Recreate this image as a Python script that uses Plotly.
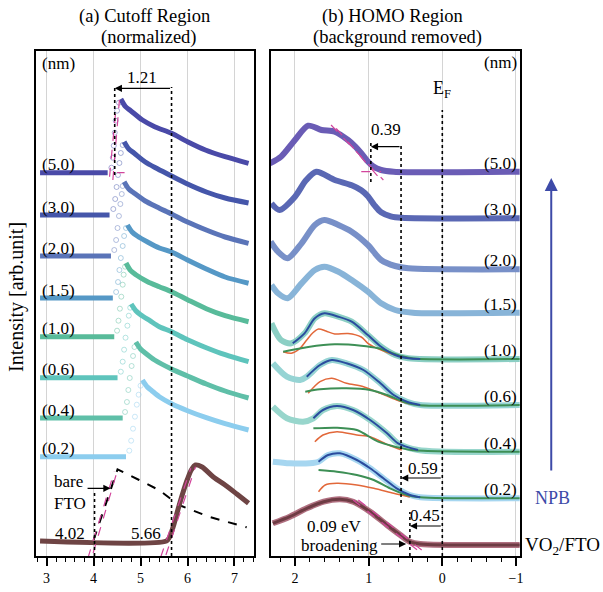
import plotly.graph_objects as go

FONT = "Liberation Serif"
THICK = ["5.0", "3.0", "2.0", "1.5", "1.0", "0.6", "0.4", "0.2"]

# ---------------- (a) Cutoff region (normalized) ----------------
A_COLORS = ["#4a4aa8", "#4556aa", "#5a74b8", "#5598c6", "#58bb9a", "#5ec4bc", "#5fbfa8", "#8ccdee"]
A_BASE = [383.3, 341.0, 300.0, 258.0, 219.3, 178.3, 138.0, 99.3]
A_START = 2.86
A_ONSET = [4.30, 4.34, 4.37, 4.41, 4.44, 4.51, 4.62, 4.69]
A_RISE_X = [
    [4.38, 4.41, 4.43, 4.45, 4.47, 4.50, 4.54],
    [4.42, 4.46, 4.49, 4.52, 4.55, 4.58, 4.62],
    [4.44, 4.48, 4.51, 4.54, 4.57, 4.60, 4.62],
    [4.48, 4.52, 4.55, 4.58, 4.62, 4.65, 4.69],
    [4.50, 4.53, 4.56, 4.59, 4.62, 4.64, 4.67],
    [4.58, 4.62, 4.65, 4.68, 4.72, 4.75, 4.78],
    [4.67, 4.71, 4.74, 4.77, 4.81, 4.84, 4.87],
    [4.76, 4.80, 4.84, 4.88, 4.92, 4.96, 5.00],
]
A_RISE_Y = [
    [5, 15, 27, 40, 52, 62, 70],
    [6, 16, 28, 40, 52, 62, 70],
    [6, 16, 28, 40, 52, 62, 70],
    [6, 16, 28, 40, 52, 62, 70],
    [6, 16, 28, 40, 52, 62, 70],
    [6, 16, 28, 40, 52, 62, 70],
    [6, 16, 28, 40, 52, 62, 71],
    [6, 16, 28, 40, 52, 62, 71],
]
A_DECAY_X = [
    [4.58, 4.68, 4.79, 5.04, 5.30, 5.66, 6.00, 6.38, 6.80, 7.30],
    [4.65, 4.75, 4.86, 5.10, 5.35, 5.66, 6.00, 6.40, 6.80, 7.30],
    [4.65, 4.75, 4.86, 5.10, 5.35, 5.66, 6.00, 6.40, 6.80, 7.30],
    [4.72, 4.82, 4.93, 5.15, 5.40, 5.66, 6.00, 6.40, 6.80, 7.30],
    [4.69, 4.79, 4.90, 5.15, 5.40, 5.66, 6.00, 6.40, 6.80, 7.30],
    [4.80, 4.90, 5.00, 5.20, 5.40, 5.66, 6.00, 6.40, 6.80, 7.30],
    [4.90, 5.00, 5.10, 5.30, 5.66, 6.00, 6.40, 6.80, 7.30],
    [5.04, 5.14, 5.24, 5.40, 5.66, 6.00, 6.40, 6.80, 7.30],
]
A_DECAY_Y = [
    [73.7, 66, 62, 52.7, 46, 39.4, 31, 22.7, 16, 9.4],
    [73.3, 66, 62, 53, 46.5, 39, 31, 23, 17, 12],
    [74.3, 67, 63, 55, 49, 42, 34, 26, 19, 12.7],
    [73.0, 66, 62, 56, 50, 46, 38, 29, 21, 14.7],
    [73.7, 66, 62, 55, 50, 45, 37, 28, 21, 15],
    [73.7, 67, 63, 57, 51, 46, 38, 30, 23, 16],
    [76.0, 69, 65, 58, 49, 42, 34, 27, 20],
    [76.7, 70, 66, 60, 53, 46, 39, 33, 26.7],
]
# VO2/FTO (left) and bare FTO
VO2_A_BASE = 15.0
VO2_A_X = [2.86, 5.55, 5.62, 5.70, 5.80, 5.90, 6.00, 6.08, 6.17, 6.31, 6.55, 6.80, 7.05, 7.30]
VO2_A_Y = [0, 0, 4, 15, 32, 48, 62, 71, 76, 74, 64, 56, 47, 37.7]
FTO_X = [4.00, 4.51, 4.97, 5.39, 5.82, 6.45, 7.26]
FTO_Y = [1, 71.7, 61, 51, 36, 24.3, 13.7]

ONSET_VO2 = 5.66
ONSET_FTO = 4.02
SHIFT_NPB = 1.21
ONSET_NPB = ONSET_VO2 - SHIFT_NPB

# ---------------- (b) HOMO region (background removed) ----------------
B_COLORS = ["#6a5cb5", "#5a68b4", "#7890c8", "#88b4d8", "#8ccfc4", "#96d4d4", "#98d6cc", "#a6d6f0"]
B_BASE = [384.3, 337.7, 286.7, 243.3, 197.0, 151.0, 104.3, 57.7]
B_RAW_X = [
    [2.34, 2.19, 2.00, 1.82, 1.64, 1.46, 1.28, 1.18, 1.10, 1.02, 0.94, 0.83, 0.66, -1.05],
    [2.32, 2.21, 2.00, 1.85, 1.71, 1.46, 1.23, 1.10, 1.01, 0.92, 0.83, 0.70, 0.55, -1.05],
    [2.33, 2.23, 2.10, 1.91, 1.73, 1.60, 1.41, 1.23, 1.01, 0.83, 0.64, 0.46, -1.05],
    [2.32, 2.23, 2.10, 1.91, 1.73, 1.60, 1.41, 1.23, 1.01, 0.83, 0.64, 0.40, -1.05],
    [2.32, 2.19, 2.05, 1.87, 1.73, 1.60, 1.41, 1.23, 1.01, 0.83, 0.64, 0.46, -1.05],
    [2.30, 2.11, 1.93, 1.84, 1.66, 1.50, 1.30, 1.07, 0.84, 0.66, 0.48, 0.30, -1.05],
    [2.30, 2.11, 1.89, 1.75, 1.62, 1.43, 1.21, 0.98, 0.75, 0.60, 0.33, -1.05],
    [2.30, 2.07, 1.80, 1.68, 1.55, 1.39, 1.16, 0.98, 0.80, 0.62, 0.44, 0.30, -1.05],
]
B_RAW_Y = [
    [8.4, 15, 31.7, 46, 41.7, 40, 31.7, 25, 18.4, 11, 5.5, 1.7, 0, 0],
    [15, 8.3, 21.6, 38, 46.6, 38.3, 33, 28, 22, 13, 6, 2, 0.5, 0],
    [27.6, 17.6, 11, 26, 44.3, 49.3, 44.3, 37.6, 24.3, 9.3, 3.3, 1, 0],
    [27.7, 19.4, 14.4, 29.4, 42.7, 46, 41, 32.7, 21, 9.4, 2.7, 0, 0],
    [35.7, 19, 15.7, 25.7, 40.7, 45.7, 42.3, 37.3, 24, 12.3, 4, 0.7, 0],
    [41.7, 28.3, 25, 28.3, 40, 45, 41.7, 35, 21.7, 10, 3.3, 0, 0],
    [45, 33.4, 30, 33.4, 41.7, 45.7, 41.7, 31.7, 18.4, 8.4, 1.7, 0],
    [36.6, 35, 35, 36.6, 43.3, 45, 38.3, 30, 20, 10, 3.3, 1, 0],
]
# fitted components for thin layers (1.0, 0.6, 0.4, 0.2)
FIT_IDX = [4, 5, 6, 7]
FIT_X = [
    [2.03, 1.87, 1.73, 1.60, 1.41, 1.23, 1.01, 0.83, 0.64, 0.46, 0.30],
    [1.84, 1.66, 1.50, 1.30, 1.07, 0.84, 0.66, 0.48, 0.30],
    [1.75, 1.62, 1.43, 1.21, 0.98, 0.75, 0.60, 0.33],
    [1.68, 1.55, 1.39, 1.16, 0.98, 0.80, 0.62, 0.44, 0.30],
]
FIT_Y = [
    [15.7, 25.7, 40.7, 45.7, 42.3, 37.3, 24, 12.3, 4, 0.7, 0],
    [28.3, 40, 45, 41.7, 35, 21.7, 10, 3.3, 0],
    [33.4, 41.7, 45.7, 41.7, 31.7, 18.4, 8.4, 1.7],
    [36.6, 43.3, 45, 38.3, 30, 20, 10, 3.3, 1],
]
ORANGE_X = [
    [2.16, 2.05, 1.94, 1.84, 1.76, 1.68, 1.58, 1.46, 1.28, 1.10, 1.01, 0.83, 0.64, 0.46],
    [1.82, 1.66, 1.50, 1.30, 1.07, 0.84, 0.62, 0.44],
    [1.73, 1.62, 1.43, 1.16, 0.98, 0.73, 0.55],
    [1.68, 1.59, 1.43, 1.16, 0.93, 0.66, 0.44],
]
ORANGE_Y = [
    [7.3, 5.7, 10, 19, 26, 30, 28, 25, 25.5, 22, 15.7, 9, 4, 1],
    [11.7, 23.3, 26.7, 21.7, 18.3, 11.7, 5, 1],
    [10, 16.7, 20, 16.7, 15, 6.7, 1.7],
    [6.6, 13.3, 15, 13.3, 10, 5, 1.3],
]
GREEN_X = [
    [2.16, 1.82, 1.46, 1.10, 0.87, 0.73, 0.56, 0.39, -1.05],
    [1.86, 1.66, 1.30, 0.98, 0.75, 0.53, 0.34, -1.05],
    [1.75, 1.43, 1.16, 0.87, 0.64, 0.42, -1.05],
    [1.68, 1.43, 1.16, 0.93, 0.71, 0.48, 0.30, -1.05],
]
GREEN_Y = [
    [7.3, 12, 14.7, 13.3, 10.7, 7.3, 3, 0.5, 0],
    [13.3, 15.7, 16.7, 15, 10, 3.3, 0, 0],
    [23.4, 24, 21.7, 10, 5, 1.7, 0],
    [28.3, 26.6, 23.3, 18.3, 10, 3.3, 1, 0],
]
VO2_B_BASE = 11.0
VO2_B_X = [2.30, 2.07, 1.84, 1.61, 1.39, 1.21, 0.98, 0.75, 0.57, 0.44, 0.30, -1.05]
VO2_B_Y = [21.7, 28.3, 36.7, 43.3, 45.7, 43.3, 33.3, 20, 10, 3.3, 1, 0]

HOMO_NPB50 = 0.97
HOMO_NPB02 = 0.56
HOMO_VO2 = 0.44

fig = go.Figure()


def line(x, y, base, color, width, xa, ya, dash=None, shape="spline"):
    fig.add_trace(go.Scatter(
        x=x, y=[v + base for v in y], mode="lines",
        line=dict(color=color, width=width, shape=shape, dash=dash, smoothing=0.8),
        xaxis=xa, yaxis=ya, hoverinfo="skip", showlegend=False))


PINK = "#d2459c"

# ---- panel (a)
for i in range(len(THICK)):
    c = A_COLORS[i]
    b = A_BASE[i]
    line([A_START, A_ONSET[i]], [0, 0], b, c, 5, "x", "y", shape="linear")
    fig.add_trace(go.Scatter(
        x=A_RISE_X[i], y=[v + b for v in A_RISE_Y[i]], mode="markers",
        marker=dict(symbol="circle-open", size=5, color=c, line=dict(width=1), opacity=0.45),
        xaxis="x", yaxis="y", hoverinfo="skip", showlegend=False))
    line(A_DECAY_X[i], A_DECAY_Y[i], b, c, 5, "x", "y")

line(FTO_X, FTO_Y, VO2_A_BASE, "black", 2, "x", "y", dash="dash", shape="linear")
line(VO2_A_X, VO2_A_Y, VO2_A_BASE, "#6e4444", 5, "x", "y")

# tangent (fit) lines, panel (a)
for xs, ys in [([3.88, 4.44], [-2, 84.3]), ([3.99, 4.51], [3, 86]),
               ([5.43, 6.07], [-1, 87.7]), ([5.54, 6.17], [1, 89.3]),
               ([4.41, 4.55], [376, 456]), ([4.34, 4.48], [379.3, 449.3]),
               ([4.50, 4.66], [383.3, 383.3])]:
    line(xs, ys, 0, PINK, 1.2, "x", "y", dash="dash", shape="linear")

# ---- panel (b)
for i in range(len(THICK)):
    line(B_RAW_X[i], B_RAW_Y[i], B_BASE[i], B_COLORS[i], 6, "x2", "y2")
for k, i in enumerate(FIT_IDX):
    b = B_BASE[i]
    line(ORANGE_X[k], ORANGE_Y[k], b, "#e2683a", 1.5, "x2", "y2")
    line(GREEN_X[k], GREEN_Y[k], b, "#3d8f55", 2, "x2", "y2")
    line(FIT_X[k], FIT_Y[k], b, "#2a4c9e", 2, "x2", "y2")

line(VO2_B_X, VO2_B_Y, VO2_B_BASE, "#b07080", 6, "x2", "y2")
line(VO2_B_X, VO2_B_Y, VO2_B_BASE, "#6e3c44", 3, "x2", "y2")

for xs, ys in [([1.21, 0.34], [56, 6]), ([1.14, 0.28], [56, 6]),
               ([1.44, 0.87], [427.7, 379.3]), ([1.51, 0.80], [431, 376]),
               ([1.10, 0.83], [384.3, 384.3])]:
    line(xs, ys, 0, PINK, 1.2, "x2", "y2", dash="dash", shape="linear")

# ---- dotted reference lines
shapes = []


def vdot(xref, yref, x, y0, y1):
    shapes.append(dict(type="line", xref=xref, yref=yref, x0=x, x1=x, y0=y0, y1=y1,
                       line=dict(color="black", width=1.6, dash="dot")))


vdot("x", "y", ONSET_NPB, 381, 469)
vdot("x", "y", ONSET_VO2, 0, 469)
vdot("x", "y", ONSET_FTO, 0, 66)
vdot("x2", "y2", 0.0, 0, 446)
vdot("x2", "y2", HOMO_NPB50, 374, 413)
vdot("x2", "y2", HOMO_NPB02, 53, 413)
vdot("x2", "y2", HOMO_VO2, 0, 44)

ann = []


def text(xref, yref, x, y, t, xanchor="center", size=17, color="black"):
    ann.append(dict(xref=xref, yref=yref, x=x, y=y, text=t, showarrow=False,
                    xanchor=xanchor, yanchor="middle",
                    font=dict(family=FONT, size=size, color=color)))


def arrow(xref, yref, x_head, x_tail, y):
    ann.append(dict(xref=xref, yref=yref, axref=xref, ayref=yref, x=x_head, y=y,
                    ax=x_tail, ay=y, text="", showarrow=True, arrowhead=2,
                    arrowsize=1.2, arrowwidth=1.2, arrowcolor="black"))


# labels on curves
for i, t in enumerate(THICK):
    text("x", "y", A_START, A_BASE[i] + 8, "(" + t + ")", xanchor="left")
    text("x2", "y2", -1.04, B_BASE[i] + 8.5, "(" + t + ")", xanchor="right")

text("x", "y", 2.86, 492.7, "(nm)", xanchor="left")
text("x2", "y2", -1.04, 493, "(nm)", xanchor="right")
text("x", "y", 5.04, 478, "1.21")
arrow("x", "y", ONSET_NPB, ONSET_VO2, 467.7)
text("x", "y", 3.49, 22.7, "4.02")
text("x", "y", 5.11, 22.7, "5.66")
text("x", "y", 3.46, 74.3, "bare")
text("x", "y", 3.49, 52.7, "FTO")
arrow("x", "y", 4.36, 3.84, 67.7)

text("x2", "y2", 0.0, 466, "E<sub>F</sub>", size=18)
text("x2", "y2", 0.76, 426, "0.39")
arrow("x2", "y2", HOMO_NPB50, HOMO_NPB02, 409.3)
text("x2", "y2", 0.26, 87.7, "0.59")
arrow("x2", "y2", HOMO_NPB02, 0.0, 78)
text("x2", "y2", 0.235, 41, "0.45")
arrow("x2", "y2", HOMO_VO2, 0.0, 30)
text("x2", "y2", 1.46, 30, "0.09 eV")
text("x2", "y2", 1.39, 11, "broadening")
arrow("x2", "y2", 0.49, 0.85, 12)

# titles and outside text (paper coords)
for x, y, t in [(145, 16.7, "(a) Cutoff Region"), (150, 37, "(normalized)"),
                (394, 16.7, "(b) HOMO Region"), (399, 37, "(background removed)")]:
    ann.append(dict(xref="paper", yref="paper", x=x / 603, y=1 - y / 592, text=t,
                    showarrow=False, xanchor="center", yanchor="middle",
                    font=dict(family=FONT, size=18.5, color="black")))
ann.append(dict(xref="paper", yref="paper", x=16 / 603, y=1 - 297 / 592,
                text="Intensity [arb.unit]", textangle=-90, showarrow=False,
                xanchor="center", yanchor="middle",
                font=dict(family=FONT, size=20, color="black")))
ann.append(dict(xref="paper", yref="paper", x=554 / 603, y=1 - 178 / 592, ax=0, ay=294,
                text="", showarrow=True, arrowhead=2, arrowsize=1.3, arrowwidth=2,
                arrowcolor="#3d4aa8"))
ann.append(dict(xref="paper", yref="paper", x=555 / 603, y=1 - 498 / 592, text="NPB",
                showarrow=False, xanchor="center", yanchor="middle",
                font=dict(family=FONT, size=18, color="#3d4aa8")))
ann.append(dict(xref="paper", yref="paper", x=526 / 603, y=1 - 546 / 592,
                text="VO<sub>2</sub>/FTO", showarrow=False, xanchor="left",
                yanchor="middle", font=dict(family=FONT, size=19, color="black")))

axis_common = dict(showline=True, mirror=True, linecolor="black", linewidth=1.5,
                   ticks="outside", ticklen=8, tickwidth=1.5, tickcolor="black",
                   showgrid=True, gridcolor="#d4d4d4", gridwidth=1, zeroline=False,
                   tickfont=dict(family=FONT, size=14, color="black"),
                   minor=dict(dtick=0.2, ticks="outside", ticklen=4, tickwidth=1,
                              tickcolor="black", showgrid=False))
yd = [36 / 592, 1 - 50.7 / 592]
fig.update_layout(
    width=603, height=592, autosize=False,
    margin=dict(l=0, r=0, t=0, b=0),
    paper_bgcolor="white", plot_bgcolor="white",
    xaxis=dict(domain=[36 / 603, 255 / 603], range=[2.77, 7.41], dtick=1, tick0=3,
               anchor="y", **axis_common),
    yaxis=dict(domain=yd, range=[0, 505.3], showticklabels=False, ticks="",
               showgrid=False, zeroline=False, showline=True, mirror=True,
               linecolor="black", linewidth=1.5, anchor="x"),
    xaxis2=dict(domain=[272 / 603, 523 / 603], range=[2.33, -1.06], dtick=1, tick0=0,
                anchor="y2", **axis_common),
    yaxis2=dict(domain=yd, range=[0, 505.3], showticklabels=False, ticks="",
                showgrid=False, zeroline=False, showline=True, mirror=True,
                linecolor="black", linewidth=1.5, anchor="x2"),
    shapes=shapes, annotations=ann,
)

fig.write_html("out.html", config={"displayModeBar": False},
               post_script="document.body.style.margin='0';document.body.style.overflow='hidden';")
